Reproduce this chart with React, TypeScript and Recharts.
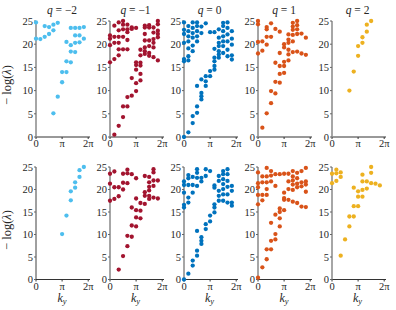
import React from 'react';
import { ScatterChart, Scatter, XAxis, YAxis } from 'recharts';

// ky grid: 12 momenta across the Brillouin zone
const kyGrid = [0, 0.524, 1.047, 1.571, 2.094, 2.618, 3.142, 3.665, 4.189, 4.712, 5.236, 5.76];
const qLabels = ['−2', '−1', '0', '1', '2'];
const xTickValues = [0, 3.1416, 6.2832];
const xTickLabels = ['0', 'π', '2π'];
const yTickValues = [0, 5, 10, 15, 20, 25];
const colors = ['#4DBEEE', '#A2142F', '#0072BD', '#D95319', '#EDB120'];

// −log(λ) values per ky column (index = column)
const topQm2 = [
  [24.7, 21.2], [21.1], [21.6, 23.9], [22.2, 23.7], [23.0, 24.2, 5.1], [24.6, 8.7],
  [11.8, 14.0], [14.0, 16.3, 20.5], [16.1, 19.8, 18.4, 23.5], [20.3, 18.3, 23.5, 21.9],
  [23.5, 21.9, 20.4], [23.7, 21.2],
];
const topQm1 = [
  [21.9, 21.2, 19.8, 16.1], [24.0, 21.6, 20.3, 16.8, 0.5], [24.7, 23.0, 21.6, 20.3, 18.9, 17.6, 2.4],
  [25.0, 24.2, 23.2, 21.6, 18.9, 6.6, 4.3], [24.2, 23.2, 22.6, 20.9, 18.9, 8.6, 6.6], [23.6, 23.3, 12.7, 8.9],
  [23.5, 16.1, 15.5, 14.5, 11.6, 9.9], [18.8, 17.6, 16.0, 15.4, 13.6, 12.2],
  [24.0, 23.6, 22.2, 20.8, 19.3, 18.5, 17.9], [24.1, 23.6, 20.8, 19.6, 18.1, 17.5],
  [23.6, 22.5, 21.1, 20.3, 19.3, 17.2], [25.0, 24.3, 22.9, 22.2, 21.5, 16.5],
];
const topQ0 = [
  [24.7, 23.1, 22.2, 20.3, 16.8, 16.3, 0], [23.9, 22.8, 21.7, 20.6, 19.1, 17.4, 16.5, 1.0],
  [24.7, 23.5, 22.4, 21.4, 19.7, 18.5, 4.5, 3.0], [24.7, 23.9, 22.8, 21.7, 20.6, 11.0, 6.6, 5.2],
  [23.8, 22.4, 12.4, 9.5, 8.8, 8.1], [24.5, 13.1, 12.0, 11.0], [22.6, 14.2, 13.1],
  [22.6, 19.0, 17.1, 16.3, 15.3, 14.5], [23.2, 21.4, 20.3, 19.6, 18.5, 17.8, 17.1],
  [24.6, 23.9, 22.8, 21.7, 20.6, 19.6, 18.1], [24.7, 23.5, 22.1, 20.6, 18.8, 17.4],
  [22.8, 21.2, 19.9, 17.6, 16.7],
];
const topQ1 = [
  [25.0, 24.3, 20.5, 18.0], [20.6, 18.6, 2.0], [23.7, 23.2, 21.6, 19.9, 5.1], [24.5, 21.6, 9.9, 7.3],
  [23.3, 16.0, 11.9, 9.4], [22.7, 18.1, 15.3, 13.6, 11.7], [20.0, 19.3, 16.2, 15.3, 13.8],
  [22.1, 21.0, 20.3, 18.8, 17.8, 16.5], [24.6, 23.8, 23.1, 22.0, 20.6, 18.3],
  [25.0, 24.1, 23.2, 22.2, 18.4], [22.3, 18.0], [21.4, 17.7],
];
const topQ2 = [[], [], [], [], [10.0], [14.1], [17.5, 19.6], [21.5, 20.3], [22.7, 24.2], [25.0], [], []];

const botQm2 = [[], [], [], [], [], [], [10.1], [14.2], [17.6, 19.6], [20.4, 21.6], [22.8, 24.3], [25.0]];
const botQm1 = [
  [23.5, 21.3, 17.5], [24.0, 20.5, 17.9], [20.5, 18.5, 2.2], [23.5, 21.5, 20.0, 5.2],
  [24.4, 23.6, 21.4, 9.7, 7.4], [23.4, 16.0, 12.0, 9.5], [22.5, 18.0, 15.4, 13.8, 11.8],
  [17.0, 15.3, 13.6], [23.0, 19.4, 18.6, 16.8], [22.8, 21.6, 20.6, 19.8, 18.6, 17.9],
  [24.5, 23.8, 22.0, 20.8, 18.2], [22.0, 18.0],
];
const botQ0 = [
  [21.8, 21.0, 19.3, 16.6, 16.0, 0], [23.2, 22.5, 21.0, 18.2, 17.1, 1.3], [22.8, 21.0, 19.3, 4.2, 3.1],
  [24.5, 23.7, 22.6, 20.8, 10.8, 6.4, 5.3], [22.6, 21.8, 9.4, 8.6, 7.9], [24.5, 23.0, 12.3, 11.2],
  [24.1, 14.2, 12.9], [20.9, 20.4, 16.7, 16.0, 14.9], [23.0, 21.9, 19.7, 18.6, 17.5],
  [24.1, 23.4, 22.3, 21.2, 20.1, 18.9, 17.5], [24.5, 23.4, 21.9, 20.6, 18.9, 17.1],
  [20.8, 19.7, 17.1, 16.4],
];
const botQ1 = [
  [23.8, 21.4, 20.5, 18.8, 16.7, 0.4], [22.9, 21.6, 18.8, 17.6, 2.7], [24.8, 22.9, 21.6, 20.1, 18.8, 6.7, 4.5],
  [24.1, 23.1, 21.8, 12.6, 8.6, 6.7], [23.4, 20.8, 14.4, 10.1, 8.9], [23.4, 15.8, 15.0, 13.6, 11.8],
  [23.5, 19.3, 18.1, 17.7, 15.4], [23.5, 21.8, 20.1, 17.7], [24.1, 22.9, 22.0, 21.1, 19.9, 17.3],
  [23.7, 22.5, 21.3, 20.5, 17.0], [24.1, 21.6, 20.7, 16.2], [24.8, 21.8, 21.1, 19.5, 16.1],
];
const botQ2 = [
  [23.5, 21.4], [24.4, 23.6, 21.9], [23.8, 22.8, 5.3], [8.9], [11.8, 14.0], [14.0, 16.3, 20.4],
  [16.3, 19.6, 18.4], [18.4, 19.9, 21.8, 23.3], [21.8, 20.2], [25.0, 23.7, 21.4], [21.3], [20.9],
];

const topRow = [topQm2, topQm1, topQ0, topQ1, topQ2];
const botRow = [botQm2, botQm1, botQ0, botQ1, botQ2];

const plotLeft = [36, 109.5, 183.5, 258, 331.5];
const PLOT_W = 54;
const rows = [
  { top: 20.5, h: 116, data: topRow },
  { top: 167, h: 112.5, data: botRow },
];
const AXW = 30;
const MT = 5;
const MR = 5;
const XH = 16;
const FONT = "'Liberation Serif', 'DejaVu Serif', serif";
const tickStyle = { fontSize: 10.5, fontFamily: FONT, fill: '#262626' };

function toPoints(cols: number[][]) {
  const pts: { x: number; y: number }[] = [];
  cols.forEach((vals, i) => vals.forEach((v) => pts.push({ x: kyGrid[i], y: v })));
  return pts;
}

function Panel({ cols, color, left, top, h, thinY }: { cols: number[][]; color: string; left: number; top: number; h: number; thinY: boolean }) {
  const pts = toPoints(cols);
  return (
    <div style={{ position: 'absolute', left: left - AXW, top: top - MT, fontFamily: FONT }}>
      <ScatterChart width={AXW + PLOT_W + MR} height={MT + h + XH} margin={{ top: MT, right: MR, bottom: 0, left: 0 }}>
        <XAxis
          type="number"
          dataKey="x"
          domain={[0, 6.5]}
          ticks={xTickValues}
          tickFormatter={(v: number) => xTickLabels[xTickValues.indexOf(v)] ?? ''}
          interval={0}
          height={XH}
          tick={tickStyle}
          tickSize={2}
          tickMargin={1}
          axisLine={{ stroke: '#333', strokeWidth: 1 }}
          tickLine={{ stroke: '#333' }}
        />
        <YAxis
          type="number"
          dataKey="y"
          domain={[0, 25]}
          ticks={yTickValues}
          interval={0}
          width={AXW}
          tick={tickStyle}
          tickSize={2}
          tickMargin={1}
          axisLine={thinY ? { stroke: '#404040', strokeWidth: 1 } : { stroke: '#909090', strokeWidth: 1.6 }}
          tickLine={{ stroke: '#666' }}
        />
        <Scatter
          data={pts}
          isAnimationActive={false}
          shape={(p: any) => <circle cx={p.cx} cy={p.cy} r={2.15} fill={color} />}
        />
      </ScatterChart>
    </div>
  );
}

export default function App() {
  return (
    <div style={{ position: 'absolute', left: 0, top: 0, width: 396, height: 310, background: '#fff', fontFamily: FONT }}>
      {rows.map((r, ri) =>
        r.data.map((cols, i) => (
          <Panel key={`${ri}-${i}`} cols={cols} color={colors[i]} left={plotLeft[i]} top={r.top} h={r.h} thinY={ri === 1 && i === 0} />
        ))
      )}
      <svg width={396} height={310} style={{ position: 'absolute', left: 0, top: 0, pointerEvents: 'none', fontFamily: FONT }} fill="#262626">
        {qLabels.map((q, i) => (
          <text key={`t${i}`} x={plotLeft[i] + 26} y={14} textAnchor="middle" fontSize={11.5}>
            <tspan fontStyle="italic">q</tspan> = {q}
          </text>
        ))}
        {plotLeft.map((x, i) => (
          <text key={`k${i}`} x={x + 26} y={302} textAnchor="middle" fontSize={12} fontStyle="italic">
            k<tspan fontSize={8.5} dy={2}>y</tspan>
          </text>
        ))}
        {[85, 230].map((cy, i) => (
          <text key={`y${i}`} transform={`translate(10.5, ${cy}) rotate(-90)`} textAnchor="middle" fontSize={12.5}>
            − log(<tspan fontStyle="italic">λ</tspan>)
          </text>
        ))}
      </svg>
    </div>
  );
}
